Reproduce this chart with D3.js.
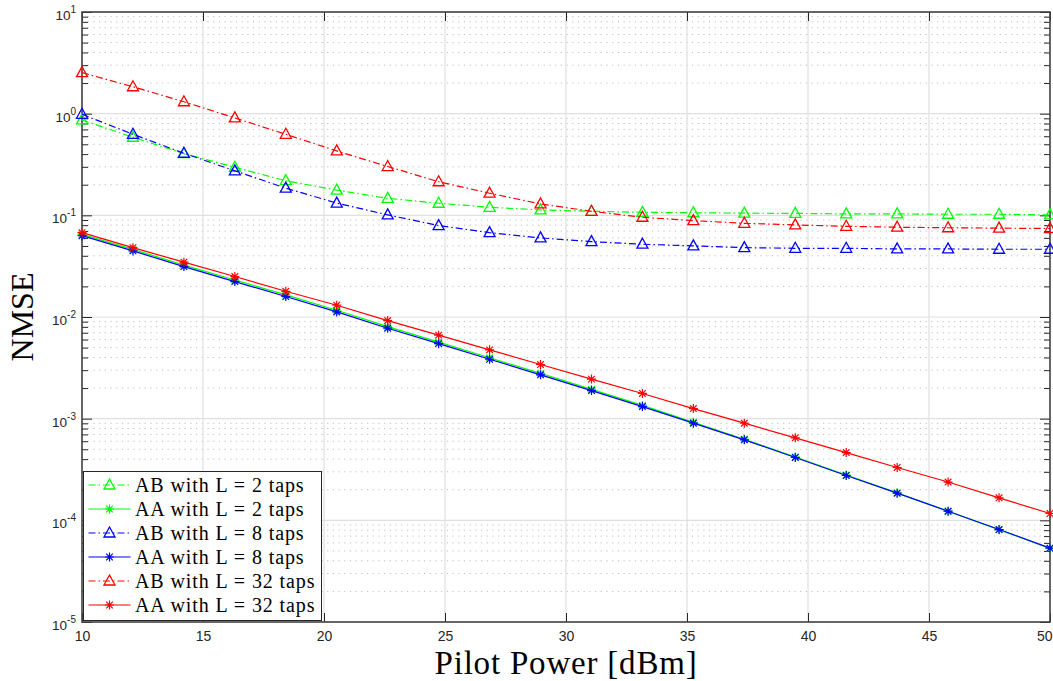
<!DOCTYPE html>
<html>
<head>
<meta charset="utf-8">
<script src="https://cdn.jsdelivr.net/npm/d3@7"></script>
<style>
	body { margin: 0; background: #fff; }
	svg { display: block; }
</style>
</head>
<body>
<svg id="chart" width="1053" height="681"></svg>
<script>
// Pilot power samples (20 points, 10 .. 50 dBm)
const pilotPower = [10, 12.105, 14.211, 16.316, 18.421, 20.526, 22.632, 24.737, 26.842, 28.947,
	31.053, 33.158, 35.263, 37.368, 39.474, 41.579, 43.684, 45.789, 47.895, 50];

const ab2 = [0.867, 0.586, 0.405, 0.297, 0.219, 0.177, 0.147, 0.1315, 0.120, 0.113,
	0.1096, 0.107, 0.106, 0.105, 0.1045, 0.1033, 0.1033, 0.1025, 0.1025, 0.101];
const aa2 = [0.0650, 0.0462, 0.0324, 0.0231, 0.0165, 0.01165, 0.00805, 0.00567, 0.00397, 0.00279,
	0.00194, 0.00135, 9.2e-4, 6.28e-4, 4.2e-4, 2.79e-4, 1.86e-4, 1.23e-4, 8.1e-5, 5.3e-5];
const ab8 = [0.986, 0.627, 0.408, 0.274, 0.185, 0.132, 0.101, 0.0793, 0.0676, 0.060,
	0.0551, 0.052, 0.050, 0.0481, 0.0474, 0.0474, 0.0467, 0.0467, 0.0464, 0.0464];
const aa8 = [0.0631, 0.0447, 0.0313, 0.0223, 0.0159, 0.01122, 0.00776, 0.00547, 0.00384, 0.00270,
	0.00189, 0.001315, 9.03e-4, 6.19e-4, 4.15e-4, 2.76e-4, 1.85e-4, 1.23e-4, 8.12e-5, 5.33e-5];
const ab32 = [2.53, 1.84, 1.31, 0.908, 0.627, 0.430, 0.302, 0.214, 0.165, 0.1294,
	0.1096, 0.0957, 0.0887, 0.0835, 0.0805, 0.078, 0.0764, 0.0755, 0.0748, 0.0742];
const aa32 = [0.0676, 0.0481, 0.0346, 0.0250, 0.0179, 0.01306, 0.00922, 0.00663, 0.00475, 0.00341,
	0.00245, 0.00177, 0.001257, 9.03e-4, 6.48e-4, 4.64e-4, 3.31e-4, 2.38e-4, 1.665e-4, 1.167e-4];

const xTicks = [10, 15, 20, 25, 30, 35, 40, 45, 50];
const yExponents = [-5, -4, -3, -2, -1, 0, 1];

const series = [
	{ name: "AB with L = 2 taps", values: ab2, color: "#00ff00", kind: "AB" },
	{ name: "AA with L = 2 taps", values: aa2, color: "#00ff00", kind: "AA" },
	{ name: "AB with L = 8 taps", values: ab8, color: "#0000ff", kind: "AB" },
	{ name: "AA with L = 8 taps", values: aa8, color: "#0000ff", kind: "AA" },
	{ name: "AB with L = 32 taps", values: ab32, color: "#ff0000", kind: "AB" },
	{ name: "AA with L = 32 taps", values: aa32, color: "#ff0000", kind: "AA" }
];

const svg = d3.select("#chart");
const margin = { left: 82, right: 1050, top: 12, bottom: 622 };

const x = d3.scaleLinear().domain([10, 50]).range([margin.left, margin.right]);
const y = d3.scaleLog().domain([1e-5, 10]).range([margin.bottom, margin.top]);

const axisColor = "#262626";
const tickFont = "Liberation Sans, Arial, sans-serif";
const serifFont = "Liberation Serif, Times New Roman, serif";

// Minor y values (2..9 in every decade)
const minorY = [];
for (let e = -5; e < 1; e++) {
	for (let m = 2; m <= 9; m++) minorY.push(m * Math.pow(10, e));
}

// Grid
const grid = svg.append("g");
grid.selectAll("line.minor")
	.data(minorY)
	.join("line")
	.attr("class", "minor")
	.attr("x1", margin.left).attr("x2", margin.right)
	.attr("y1", d => y(d)).attr("y2", d => y(d))
	.attr("stroke", "#bdbdbd")
	.attr("stroke-width", 1)
	.attr("stroke-dasharray", "1.2,4.5");
grid.selectAll("line.majorY")
	.data(yExponents.slice(1, -1))
	.join("line")
	.attr("class", "majorY")
	.attr("x1", margin.left).attr("x2", margin.right)
	.attr("y1", d => y(Math.pow(10, d))).attr("y2", d => y(Math.pow(10, d)))
	.attr("stroke", "#e0e0e0")
	.attr("stroke-width", 1.2);
grid.selectAll("line.majorX")
	.data(xTicks.slice(1, -1))
	.join("line")
	.attr("class", "majorX")
	.attr("x1", d => x(d)).attr("x2", d => x(d))
	.attr("y1", margin.top).attr("y2", margin.bottom)
	.attr("stroke", "#e0e0e0")
	.attr("stroke-width", 1.2);

// Axes (box with inward ticks)
const axes = svg.append("g");
const yMajorVals = yExponents.map(e => Math.pow(10, e));

axes.append("g")
	.attr("transform", `translate(0,${margin.bottom})`)
	.call(d3.axisBottom(x).tickValues(xTicks).tickSizeInner(-9).tickSizeOuter(0).tickPadding(9).tickFormat(d3.format("d")))
	.call(g => g.select(".domain").remove());
axes.append("g")
	.attr("transform", `translate(0,${margin.top})`)
	.call(d3.axisTop(x).tickValues(xTicks).tickSizeInner(-9).tickSizeOuter(0).tickFormat(""))
	.call(g => g.select(".domain").remove());
axes.append("g")
	.attr("transform", `translate(${margin.left},0)`)
	.call(d3.axisLeft(y).tickValues(yMajorVals).tickSizeInner(-10).tickSizeOuter(0).tickFormat(""))
	.call(g => g.select(".domain").remove());
axes.append("g")
	.attr("transform", `translate(${margin.left},0)`)
	.call(d3.axisLeft(y).tickValues(minorY).tickSizeInner(-6).tickSizeOuter(0).tickFormat(""))
	.call(g => g.select(".domain").remove());
axes.append("g")
	.attr("transform", `translate(${margin.right},0)`)
	.call(d3.axisRight(y).tickValues(yMajorVals).tickSizeInner(-10).tickSizeOuter(0).tickFormat(""))
	.call(g => g.select(".domain").remove());
axes.append("g")
	.attr("transform", `translate(${margin.right},0)`)
	.call(d3.axisRight(y).tickValues(minorY).tickSizeInner(-6).tickSizeOuter(0).tickFormat(""))
	.call(g => g.select(".domain").remove());

axes.selectAll(".tick line").attr("stroke", axisColor).attr("stroke-width", 1);
axes.selectAll(".tick text")
	.attr("fill", axisColor)
	.attr("font-family", tickFont)
	.attr("font-size", 14);
// Last x label sits at the right edge: keep it inside the picture
axes.selectAll(".tick text").filter(d => d === 50).attr("text-anchor", "end").attr("dx", 2);

axes.append("rect")
	.attr("x", margin.left).attr("y", margin.top)
	.attr("width", margin.right - margin.left).attr("height", margin.bottom - margin.top)
	.attr("fill", "none")
	.attr("stroke", "#404040")
	.attr("stroke-width", 1.6);

// Y tick labels: 10^e
const yLabels = svg.append("g");
yExponents.forEach(e => {
	const t = yLabels.append("text")
		.attr("x", margin.left - 6)
		.attr("y", y(Math.pow(10, e)) + 8)
		.attr("text-anchor", "end")
		.attr("fill", axisColor)
		.attr("font-family", tickFont)
		.attr("font-size", 13.5);
	t.append("tspan").text("10");
	t.append("tspan").attr("dy", -7).attr("font-size", 10).text(String(e));
});

// Axis titles
svg.append("text")
	.attr("x", (margin.left + margin.right) / 2)
	.attr("y", 674)
	.attr("text-anchor", "middle")
	.attr("font-family", serifFont)
	.attr("font-size", 33)
	.attr("letter-spacing", 0.8)
	.attr("fill", "#000")
	.text("Pilot Power [dBm]");
svg.append("text")
	.attr("transform", `translate(33,${(margin.top + margin.bottom) / 2}) rotate(-90)`)
	.attr("text-anchor", "middle")
	.attr("font-family", serifFont)
	.attr("font-size", 32)
	.attr("fill", "#000")
	.text("NMSE");

// Markers
function triangle(sel) {
	return sel.append("path")
		.attr("d", "M0,-6 L5.5,4 L-5.5,4 Z")
		.attr("fill", "none")
		.attr("stroke-width", 1.3);
}
function star(sel) {
	return sel.append("path")
		.attr("d", "M-4.5,0 L4.5,0 M0,-4.5 L0,4.5 M-3.3,-3.3 L3.3,3.3 M-3.3,3.3 L3.3,-3.3")
		.attr("fill", "none")
		.attr("stroke-width", 1.2);
}

const line = d3.line()
	.x((d, i) => x(pilotPower[i]))
	.y(d => y(d));

const plot = svg.append("g");
series.forEach(s => {
	const g = plot.append("g");
	g.append("path")
		.attr("d", line(s.values))
		.attr("fill", "none")
		.attr("stroke", s.color)
		.attr("stroke-width", 1.2)
		.attr("stroke-dasharray", s.kind === "AB" ? "7,3,1.5,3" : null);
	g.selectAll("g.marker")
		.data(s.values)
		.join("g")
		.attr("class", "marker")
		.attr("transform", (d, i) => `translate(${x(pilotPower[i])},${y(d)})`)
		.each(function () {
			const m = d3.select(this);
			(s.kind === "AB" ? triangle(m) : star(m)).attr("stroke", s.color);
		});
});

// Legend
const legend = svg.append("g").attr("transform", "translate(83.5,471.5)");
legend.append("rect")
	.attr("width", 238).attr("height", 149)
	.attr("fill", "#fff")
	.attr("stroke", "#262626")
	.attr("stroke-width", 1);
series.forEach((s, i) => {
	const row = legend.append("g").attr("transform", `translate(0,${13.5 + i * 24})`);
	row.append("line")
		.attr("x1", 5).attr("x2", 47)
		.attr("stroke", s.color)
		.attr("stroke-width", 1.2)
		.attr("stroke-dasharray", s.kind === "AB" ? "7,3,1.5,3" : null);
	const m = row.append("g").attr("transform", "translate(26,0)");
	(s.kind === "AB" ? triangle(m) : star(m)).attr("stroke", s.color);
	row.append("text")
		.attr("x", 51.5)
		.attr("y", 6.5)
		.attr("font-family", serifFont)
		.attr("font-size", 20)
		.attr("letter-spacing", 0.9)
		.attr("fill", "#000")
		.text(s.name);
});
</script>
</body>
</html>
